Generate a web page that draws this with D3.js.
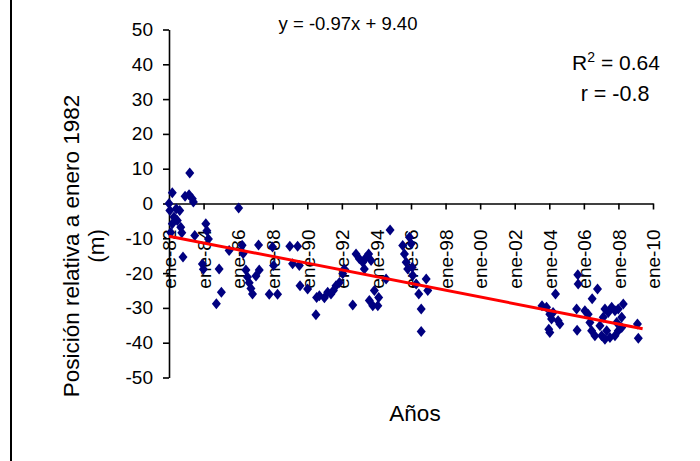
<!DOCTYPE html>
<html>
<head>
<meta charset="utf-8">
<script src="https://d3js.org/d3.v7.min.js"></script>
<style>
  body { margin: 0; background: #fff; }
  svg { display: block; font-family: "Liberation Sans", Arial, sans-serif; }
</style>
</head>
<body>
<svg id="chart" width="700" height="461"></svg>
<script>
// fecha de cada medida, en años decimales
const years = [
  1982.00, 1982.05, 1982.19, 1982.42, 1982.29, 1982.62, 1982.48, 1982.19, 1982.68, 1982.10,
  1982.74, 1982.81, 1982.93, 1983.16, 1983.35, 1983.20, 1983.41, 1983.49, 1984.13, 1984.19,
  1984.28, 1983.93, 1983.99, 1984.90, 1985.03, 1984.74, 1985.48, 1986.03,
  1986.29, 1986.23, 1987.18, 1987.22, 1987.03, 1986.45, 1986.54, 1986.64, 1986.74, 1986.83,
  1987.80, 1988.28, 1988.05, 1987.99, 1988.99, 1989.44, 1989.15, 1989.54, 1989.58, 1990.02,
  1990.54, 1990.50,
  1990.70, 1990.99, 1991.18, 1991.37, 1991.51, 1991.66, 1991.86, 1992.05, 1992.14, 1992.63,
  1992.82, 1993.01, 1993.21, 1993.40, 1993.55, 1993.30, 1993.69, 1993.59, 1993.79, 1994.08,
  1994.13, 1993.88, 1994.56, 1994.79,
  1995.52, 1995.62, 1995.72, 1995.91, 1996.01, 1995.81, 1996.07, 1996.30, 1996.45, 1996.59,
  1996.59, 1996.88, 1996.97, 1996.10,
  2003.58, 2003.84, 2004.03, 2004.13, 2004.22, 2004.36, 2004.51, 2004.61, 2003.97, 2004.03,
  2005.58, 2005.61, 2005.65, 2005.67, 2006.06, 2006.25, 2006.35, 2006.48, 2006.79, 2006.45,
  2006.64, 2006.93, 2007.03, 2007.12, 2007.22, 2007.22, 2007.32, 2007.41, 2007.51, 2007.61,
  2007.80, 2007.80, 2007.90, 2007.99, 2007.99, 2008.19, 2008.19, 2008.28, 2009.10, 2009.15
];
// posición relativa (m)
const positions = [
  0, -2, 3.1, -1.5, -3.9, -2, -4.9, -5.8, -6.8, -8.3,
  -8.4, -15.4, 2.1, 2.5, 1.4, 8.8, 0.4, -9.2, -5.8, -7.8,
  -10.2, -17.4, -18.9, -18.8, -25.5, -28.8, -13.5, -1.3,
  -14.4, -12.0, -11.9, -19.1, -20.8, -19.1, -21.1, -22.8, -24.4, -26.0,
  -26.1, -26.1, -17.8, -12.5, -12.3, -12.3, -17.3, -17.8, -23.6, -24.6,
  -27.0, -32.0,
  -26.5, -27.1, -25.5, -26.0, -25.0, -23.6, -22.7, -20.2, -18.8, -29.2,
  -14.5, -15.9, -16.9, -15.5, -14.5, -18.8, -16.4, -27.9, -29.4, -29.4,
  -27.0, -25.0, -21.7, -7.6,
  -12.1, -14.5, -16.9, -9.7, -11.6, -18.8, -18.3, -23.1, -26.0, -30.3,
  -36.8, -21.7, -25.0, -20.7,
  -29.4, -29.8, -31.8, -33.2, -31.3, -26.0, -33.7, -34.6, -36.1, -37.1,
  -30.3, -36.4, -20.5, -23.1, -30.8, -31.8, -34.2, -27.4, -24.6, -36.6,
  -38.0, -35.1, -38.0, -32.7, -30.3, -39.0, -36.6, -31.3, -38.5, -29.8,
  -30.8, -38.0, -34.2, -30.3, -36.6, -35.6, -32.7, -28.9, -34.6, -38.7
];

const xTickYears = [1982, 1984, 1986, 1988, 1990, 1992, 1994, 1996, 1998, 2000, 2002, 2004, 2006, 2008, 2010];
const xTickLabels = ["ene-82", "ene-84", "ene-86", "ene-88", "ene-90", "ene-92", "ene-94", "ene-96",
  "ene-98", "ene-00", "ene-02", "ene-04", "ene-06", "ene-08", "ene-10"];
const yTicks = [-50, -40, -30, -20, -10, 0, 10, 20, 30, 40, 50];

// recta de tendencia (m por año, valor en ene-82)
const trendSlope = -0.97;
const trendStart = -9.4;
const trendYears = [1982, 2009.4];

const svg = d3.select("#chart");

const x = d3.scaleLinear().domain([1982, 2010]).range([169, 653]);
const y = d3.scaleLinear().domain([-50, 50]).range([377.5, 29.5]);

// marco izquierdo
svg.append("line")
  .attr("x1", 11).attr("x2", 11)
  .attr("y1", 0).attr("y2", 461)
  .attr("stroke", "#000").attr("stroke-width", 2);

// eje y (guion normal en los negativos, como en Excel)
const gy = svg.append("g")
  .attr("transform", `translate(${x(1982)},0)`)
  .call(d3.axisLeft(y).tickValues(yTicks).tickFormat(d => String(d))
    .tickSize(6).tickSizeOuter(0).tickPadding(10));
gy.selectAll("text").attr("font-size", 19).attr("font-family", null).attr("fill", "#000");

// eje x sobre y = 0
const gx = svg.append("g")
  .attr("transform", `translate(0,${y(0)})`)
  .call(d3.axisBottom(x).tickValues(xTickYears)
    .tickFormat((d, i) => xTickLabels[i]).tickSize(6).tickSizeOuter(0));
gx.selectAll("text")
  .attr("font-size", 19).attr("font-family", null).attr("fill", "#000")
  .attr("transform", "rotate(-90)")
  .attr("x", -26).attr("y", 0).attr("dy", "0.36em")
  .style("text-anchor", "end");

svg.selectAll(".domain, .tick line").attr("stroke", "#000").attr("stroke-width", 1.6);

// puntos
svg.append("g").selectAll("path")
  .data(years.map((t, i) => [t, positions[i]]))
  .join("path")
  .attr("d", "M0,-5.5L4.5,0L0,5.5L-4.5,0Z")
  .attr("transform", d => `translate(${x(d[0])},${y(d[1])})`)
  .attr("fill", "#000080");

// tendencia
const line = d3.line()
  .x(t => x(t))
  .y(t => y(trendStart + trendSlope * (t - 1982)));
svg.append("path")
  .datum(trendYears)
  .attr("d", line)
  .attr("fill", "none")
  .attr("stroke", "#ff0000")
  .attr("stroke-width", 3);

// textos
svg.append("text")
  .attr("x", 348).attr("y", 30)
  .attr("text-anchor", "middle").attr("font-size", 18.5)
  .text("y = -0.97x + 9.40");

const r2 = svg.append("text")
  .attr("x", 616).attr("y", 70)
  .attr("text-anchor", "middle").attr("font-size", 21);
r2.append("tspan").text("R");
r2.append("tspan").attr("font-size", 14).attr("dy", -8).text("2");
r2.append("tspan").attr("dy", 8).text(" = 0.64");

svg.append("text")
  .attr("x", 615).attr("y", 101)
  .attr("text-anchor", "middle").attr("font-size", 21.5)
  .text("r = -0.8");

const ytitle = svg.append("text")
  .attr("transform", "translate(79,246) rotate(-90)")
  .attr("text-anchor", "middle").attr("font-size", 22.5);
ytitle.append("tspan").attr("x", 0).attr("y", 0).text("Posición relativa a enero 1982");
ytitle.append("tspan").attr("x", 0).attr("y", 25).text("(m)");

svg.append("text")
  .attr("x", 415).attr("y", 421)
  .attr("text-anchor", "middle").attr("font-size", 22.5)
  .text("Años");
</script>
</body>
</html>
